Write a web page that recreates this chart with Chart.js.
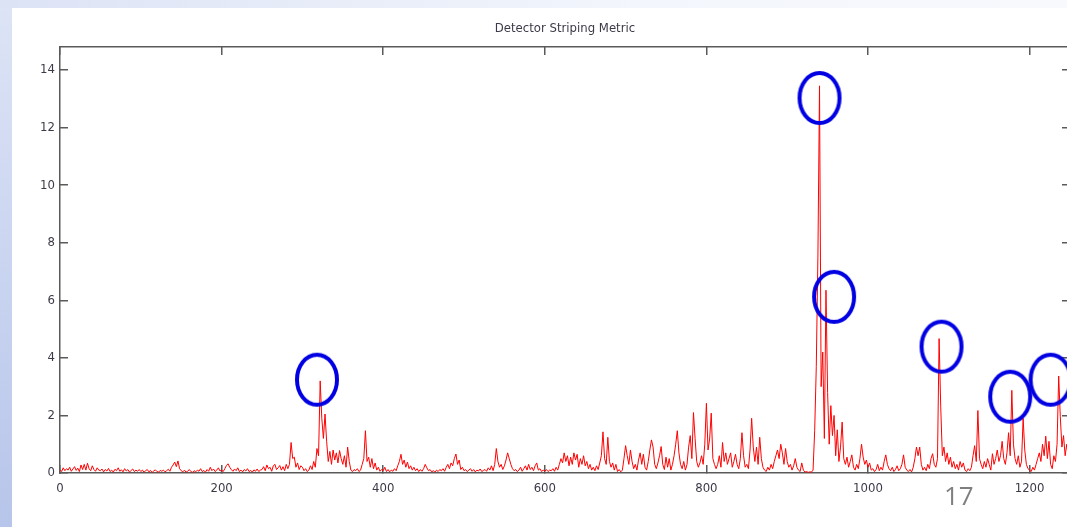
<!DOCTYPE html>
<html>
<head>
<meta charset="utf-8">
<script src="https://cdn.jsdelivr.net/npm/chart.js@4.4.1/dist/chart.umd.min.js"></script>
<style>
	html, body { margin: 0; padding: 0; width: 1067px; height: 527px; overflow: hidden; }
	body { background: linear-gradient(to bottom, #dde4f6, #b7c5ea); position: relative; }
	#topStrip { position: absolute; left: 0; top: 0; width: 1067px; height: 8px;
		background: linear-gradient(to right, #dce3f5, #f3f6fc 60%, #f7f9fd); }
	#sheet { position: absolute; left: 12px; top: 8px; width: 1068px; height: 519px; background: #fff; }
	#stripeChart { display: block; }
	#pageNo { position: absolute; left: 944px; top: 477px; font: 26px "Open Sans", "Liberation Sans", sans-serif; color: #7f7f7f; }
</style>
</head>
<body>
<div id="topStrip"></div>
<div id="sheet"><canvas id="stripeChart" width="1068" height="519"></canvas></div>
<div id="pageNo">17</div>
<script>
// x position of first sample and spacing between samples (column index)
const sampleStart = 0;
const sampleStep = 2;

// striping metric per column
const metricValues = [
	0.12,0.05,0.18,0.08,0.15,0.1,0.2,0.06,0.14,0.22,0.09,0.17,0.05,0.28,0.12,0.3,0.1,0.34,0.15,0.08,0.25,0.12,0.06,0.18,0.1,
	0.08,0.14,0.04,0.12,0.07,0.16,0.05,0.1,0.03,0.13,0.08,0.18,0.06,0.11,0.04,0.15,0.07,0.12,0.03,0.09,0.14,0.05,0.1,0.06,0.12,
	0.05,0.1,0.03,0.08,0.12,0.04,0.09,0.02,0.07,0.11,0.05,0.03,0.09,0.06,0.1,0.04,0.08,0.13,0.06,0.2,0.28,0.38,0.22,0.42,0.15,
	0.08,0.04,0.1,0.03,0.06,0.12,0.05,0.02,0.08,0.04,0.1,0.06,0.15,0.05,0.09,0.03,0.12,0.06,0.2,0.08,0.14,0.05,0.1,0.18,0.07,
	0.1,0.05,0.15,0.26,0.32,0.2,0.12,0.06,0.14,0.08,0.18,0.05,0.1,0.04,0.12,0.07,0.15,0.05,0.09,0.03,0.11,0.06,0.14,0.05,0.1,
	0.12,0.22,0.08,0.28,0.15,0.2,0.06,0.25,0.3,0.12,0.18,0.26,0.1,0.22,0.08,0.3,0.15,0.3,1.06,0.5,0.55,0.2,0.35,0.12,0.25,
	0.2,0.08,0.15,0.05,0.1,0.25,0.12,0.4,0.2,0.85,0.6,3.2,1.9,1.2,2.05,1.1,0.4,0.75,0.3,0.8,0.45,0.7,0.35,0.78,0.5,
	0.3,0.6,0.2,0.9,0.4,0.1,0.05,0.12,0.08,0.15,0.05,0.1,0.3,0.5,1.47,0.4,0.55,0.2,0.5,0.15,0.35,0.1,0.2,0.06,0.12,
	0.08,0.2,0.05,0.12,0.04,0.1,0.06,0.15,0.08,0.25,0.4,0.65,0.3,0.45,0.2,0.38,0.15,0.25,0.1,0.2,0.08,0.15,0.05,0.12,0.06,
	0.15,0.3,0.18,0.08,0.12,0.04,0.08,0.03,0.1,0.05,0.12,0.08,0.15,0.06,0.2,0.3,0.15,0.35,0.25,0.5,0.66,0.3,0.45,0.12,0.2,
	0.08,0.12,0.05,0.1,0.15,0.06,0.12,0.04,0.1,0.07,0.14,0.05,0.09,0.12,0.06,0.18,0.1,0.25,0.08,0.3,0.85,0.4,0.2,0.3,0.12,
	0.25,0.45,0.7,0.5,0.3,0.15,0.08,0.12,0.05,0.1,0.2,0.06,0.15,0.25,0.1,0.3,0.12,0.2,0.08,0.25,0.35,0.1,0.15,0.05,0.1,
	0.06,0.12,0.05,0.1,0.08,0.15,0.06,0.2,0.1,0.3,0.5,0.35,0.7,0.4,0.6,0.25,0.55,0.3,0.7,0.45,0.65,0.2,0.5,0.3,0.6,
	0.25,0.4,0.15,0.3,0.1,0.2,0.08,0.25,0.12,0.35,0.6,1.43,0.5,0.3,1.24,0.4,0.2,0.35,0.1,0.3,0.05,0.12,0.04,0.1,0.5,
	0.95,0.6,0.3,0.8,0.4,0.15,0.3,0.1,0.45,0.7,0.3,0.65,0.2,0.1,0.4,0.8,1.15,0.9,0.3,0.15,0.35,0.6,0.92,0.3,0.12,
	0.55,0.2,0.5,0.1,0.3,0.6,1.0,1.47,0.7,0.3,0.15,0.4,0.1,0.3,0.9,1.3,0.5,2.1,1.2,0.4,0.2,0.35,0.6,0.3,1.0,
	2.42,0.8,1.18,2.08,0.5,0.3,0.15,0.3,0.6,0.2,1.06,0.4,0.7,0.3,0.5,0.7,0.2,0.4,0.65,0.3,0.15,0.5,1.4,0.6,0.2,
	0.3,0.15,0.8,1.9,0.9,0.4,0.9,0.3,1.24,0.5,0.2,0.1,0.05,0.2,0.1,0.3,0.15,0.4,0.6,0.8,0.5,1.0,0.7,0.3,0.85,
	0.4,0.2,0.3,0.1,0.25,0.5,0.2,0.1,0.05,0.35,0.1,0.03,0.05,0.02,0.04,0.03,0.1,1.47,3.7,7.5,13.45,3.0,4.2,1.2,6.35,
	2.8,1.0,2.34,1.3,2.0,0.6,1.5,0.4,0.9,1.77,0.5,0.3,0.55,0.2,0.4,0.63,0.2,0.1,0.3,0.15,0.5,1.0,0.55,0.3,0.45,
	0.2,0.35,0.1,0.15,0.05,0.12,0.3,0.08,0.2,0.1,0.4,0.63,0.3,0.15,0.08,0.2,0.05,0.12,0.25,0.08,0.15,0.3,0.63,0.2,0.1,
	0.05,0.12,0.04,0.2,0.5,0.9,0.6,0.9,0.3,0.1,0.2,0.08,0.3,0.15,0.5,0.67,0.3,0.2,0.5,4.67,2.3,0.6,0.9,0.4,0.7,
	0.3,0.55,0.2,0.4,0.15,0.3,0.1,0.4,0.2,0.35,0.1,0.05,0.15,0.08,0.2,0.6,0.95,0.4,2.17,0.5,0.3,0.15,0.4,0.2,0.5,
	0.3,0.1,0.67,0.3,0.5,0.8,0.4,0.6,1.1,0.5,0.3,0.7,1.4,0.6,2.87,1.0,0.5,0.3,0.6,0.2,0.4,1.9,0.8,0.3,0.15,
	0.1,0.05,0.2,0.1,0.3,0.5,0.7,0.4,1.0,0.6,1.28,0.5,1.1,0.3,0.15,0.6,0.4,1.0,3.37,1.95,0.9,1.3,0.6,1.0,0.5
];

// blue rings drawn over the flagged peaks
const ringX = [318, 940, 958, 1091, 1176, 1226];
const ringY = [3.24, 13.03, 6.12, 4.39, 2.65, 3.24];

// axis ranges
const xMin = 0, xMax = 1250, xStep = 200;
const yMin = 0, yMax = 14.8, yStep = 2;

const chartTitle = 'Detector Striping Metric';

const axisColor = '#5a5a5a';
const labelColor = '#3d3a48';
const textFamily = '"Liberation Sans Narrow", "DejaVu Sans Condensed", "Liberation Sans", sans-serif';
const tickFont = { family: textFamily, size: 13 };

// ring image used as point style
function makeRing() {
	const c = document.createElement('canvas');
	c.width = 50;
	c.height = 58;
	const g = c.getContext('2d');
	g.strokeStyle = '#0000e2';
	g.lineWidth = 4;
	g.beginPath();
	g.ellipse(25, 29, 20, 25, 0, 0, Math.PI * 2);
	g.stroke();
	return c;
}

const linePoints = metricValues.map((v, i) => ({ x: sampleStart + i * sampleStep, y: v }));
const ringPoints = ringX.map((x, i) => ({ x: x, y: ringY[i] }));

function axisGrid() {
	return {
		display: true,
		drawOnChartArea: false,
		drawTicks: true,
		tickLength: -8,
		color: axisColor,
		lineWidth: 1.5
	};
}

const plainTick = v => String(v);

// fixed box sizes so the plot frame lands where the original one is
function fixHeight(h) {
	return s => { s.height = h; s.paddingLeft = 0; s.paddingRight = 0; };
}
function fixWidth(w) {
	return s => { s.width = w; s.paddingTop = 0; s.paddingBottom = 0; };
}

const ctx = document.getElementById('stripeChart').getContext('2d');
new Chart(ctx, {
	type: 'line',
	data: {
		datasets: [{
			type: 'scatter',
			data: ringPoints,
			pointStyle: makeRing(),
			pointRadius: 22,
			showLine: false,
			clip: false,
			order: 0
		}, {
			data: linePoints,
			borderColor: '#ff0000',
			borderWidth: 1,
			pointRadius: 0,
			tension: 0,
			fill: false,
			order: 1
		}]
	},
	options: {
		responsive: false,
		animation: false,
		events: [],
		layout: { padding: 0, autoPadding: false },
		plugins: {
			legend: { display: false },
			tooltip: { enabled: false },
			title: { display: false }
		},
		scales: {
			x: {
				type: 'linear',
				position: 'bottom',
				min: xMin, max: xMax,
				ticks: { stepSize: xStep, includeBounds: false, color: labelColor, font: tickFont, padding: 16, maxRotation: 0, callback: plainTick },
				grid: axisGrid(),
				border: { display: true, color: axisColor, width: 1.5 },
				afterFit: fixHeight(54)
			},
			x2: {
				type: 'linear',
				position: 'top',
				min: xMin, max: xMax,
				ticks: { stepSize: xStep, includeBounds: false, display: false },
				grid: axisGrid(),
				border: { display: true, color: axisColor, width: 1.5 },
				title: {
					display: true,
					text: chartTitle,
					color: labelColor,
					font: { family: textFamily, size: 13 },
					padding: { top: 13, bottom: 0 }
				},
				afterFit: fixHeight(39)
			},
			y: {
				type: 'linear',
				position: 'left',
				min: yMin, max: yMax,
				ticks: { stepSize: yStep, includeBounds: false, color: labelColor, font: tickFont, padding: 13, callback: plainTick },
				grid: axisGrid(),
				border: { display: true, color: axisColor, width: 1.5 },
				afterFit: fixWidth(48)
			},
			y2: {
				type: 'linear',
				position: 'right',
				min: yMin, max: yMax,
				ticks: { stepSize: yStep, includeBounds: false, display: false },
				grid: axisGrid(),
				border: { display: true, color: axisColor, width: 1.5 },
				afterFit: fixWidth(10)
			}
		}
	}
});
</script>
</body>
</html>
